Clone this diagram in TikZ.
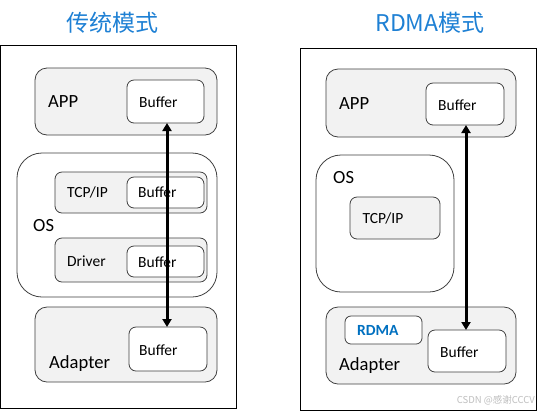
\documentclass[tikz,border=0pt]{standalone}
\usepackage{fontspec}
\setmainfont{Carlito}
\newfontfamily\cjk{Noto Sans CJK SC}
\usetikzlibrary{arrows.meta}
\definecolor{titleblue}{RGB}{30,128,212}
\definecolor{rdmablue}{RGB}{0,112,192}
\definecolor{boxgray}{RGB}{242,242,242}
\definecolor{edgegray}{RGB}{64,64,64}
\tikzset{
  outer/.style={draw=black,line width=1bp,fill=white,inner sep=0,outer sep=0},
  layer/.style={draw=edgegray,line width=0.8bp,fill=boxgray,rounded corners=12bp,inner sep=0,outer sep=0},
  osbox/.style={draw=edgegray,line width=0.8bp,fill=white,rounded corners=25bp,inner sep=0,outer sep=0},
  sublayer/.style={draw=edgegray,line width=0.8bp,fill=boxgray,rounded corners=7bp,inner sep=0,outer sep=0},
  bufbox/.style={draw=edgegray,line width=0.8bp,fill=white,rounded corners=7bp,inner sep=0,outer sep=0},
  big/.style={anchor=base west,inner sep=0,font=\fontsize{18.6bp}{20bp}\selectfont},
  small/.style={anchor=base west,inner sep=0,font=\fontsize{15.5bp}{17bp}\selectfont},
  ttl/.style={inner sep=0,text=titleblue,font=\cjk\fontsize{23bp}{26bp}\selectfont},
  dataarrow/.style={line width=3bp,{Triangle[length=8bp,width=9bp]}-{Triangle[length=8bp,width=9bp]}}
}
\begin{document}
\begin{tikzpicture}[x=1bp,y=-1bp]
\useasboundingbox (0,0) rectangle (537,411);
% titles
\node[ttl] (t1) at (112,23) {传统模式};
\node[ttl] (t2) at (430,23) {RDMA模式};
% ---------------- left panel
\node[outer,minimum width=236bp,minimum height=362.5bp] (outerL) at (118.5,226.75) {};
\node[layer,minimum width=182bp,minimum height=67bp] (lapp) at (126,101.5) {};
\node[bufbox,minimum width=77bp,minimum height=43bp] (lappbuf) at (165.5,101.5) {};
\node[big] (lappt) at (48,107) {APP};
\node[small] (lappbuft) at (139,107) {Buffer};
\node[osbox,minimum width=200bp,minimum height=144bp] (los) at (117,225) {};
\node[big] (lost) at (33,231) {OS};
\node[sublayer,minimum width=152bp,minimum height=41bp] (ltcp) at (131,192.5) {};
\node[bufbox,minimum width=77bp,minimum height=31bp] (ltcpbuf) at (165.5,192.5) {};
\node[small] (ltcpt) at (67,197) {TCP/IP};
\node[small] (ltcpbuft) at (138,197) {Buffer};
\node[sublayer,minimum width=152bp,minimum height=44bp] (ldrv) at (131,260) {};
\node[bufbox,minimum width=77bp,minimum height=31bp] (ldrvbuf) at (165.5,261.5) {};
\node[small] (ldrvt) at (67,266) {Driver};
\node[small] (ldrvbuft) at (138,267) {Buffer};
\node[layer,minimum width=182bp,minimum height=75bp] (ladp) at (126,344.5) {};
\node[bufbox,minimum width=78bp,minimum height=44bp] (ladpbuf) at (168,349) {};
\node[big] (ladpt) at (49,368) {Adapter};
\node[small] (ladpbuft) at (139,355) {Buffer};
\coordinate (larrowtop) at (167,123);
\coordinate (larrowbot) at (167,327);
\draw[dataarrow] (larrowtop) -- (larrowbot);
% ---------------- right panel
\node[outer,minimum width=236bp,minimum height=362bp] (outerR) at (418,229) {};
\node[layer,minimum width=190bp,minimum height=68bp] (rapp) at (421,103) {};
\node[bufbox,minimum width=78bp,minimum height=42bp] (rappbuf) at (465,104) {};
\node[big] (rappt) at (339,109) {APP};
\node[small] (rappbuft) at (438,110) {Buffer};
\node[osbox,minimum width=138bp,minimum height=137bp] (ros) at (385,223.5) {};
\node[big] (rost) at (333,183) {OS};
\node[sublayer,minimum width=90bp,minimum height=42bp] (rtcp) at (395,218) {};
\node[small] (rtcpt) at (362.5,223) {TCP/IP};
\node[layer,minimum width=190bp,minimum height=77bp] (radp) at (421,345.5) {};
\node[bufbox,minimum width=77bp,minimum height=28bp,rounded corners=6bp] (rrdma) at (383.5,330) {};
\node[small,text=rdmablue,font=\bfseries\fontsize{15.5bp}{17bp}\selectfont] (rrdmat) at (357,335) {RDMA};
\node[bufbox,minimum width=78bp,minimum height=42bp] (radpbuf) at (467,351) {};
\node[big] (radpt) at (339,370) {Adapter};
\node[small] (radpbuft) at (440,357) {Buffer};
\coordinate (rarrowtop) at (466,125);
\coordinate (rarrowbot) at (466,330);
\draw[dataarrow] (rarrowtop) -- (rarrowbot);
% watermark
\node[anchor=base east,inner sep=0,text=black!25,font=\cjk\fontsize{9.5bp}{11bp}\selectfont] (wm) at (535,403) {CSDN @感谢CCCV};
\end{tikzpicture}
\end{document}
